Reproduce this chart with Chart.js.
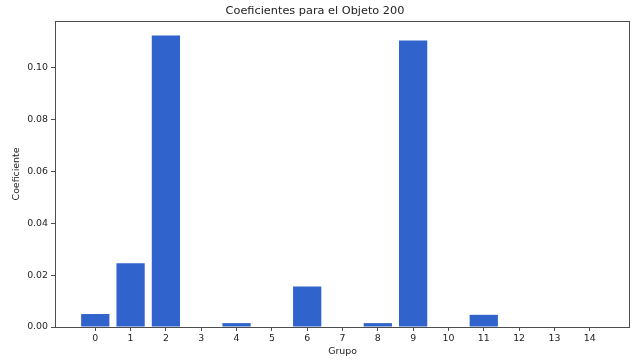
<!DOCTYPE html>
<html>
<head>
<meta charset="utf-8">
<script src="https://cdn.jsdelivr.net/npm/chart.js@4.4.1/dist/chart.umd.min.js"></script>
<style>
  body { margin: 0; background: #fff; }
  #wrap { width: 632px; height: 360px; }
</style>
</head>
<body>
<div id="wrap"><canvas id="grafico"></canvas></div>
<script>
// Datos
const grupos = [0, 1, 2, 3, 4, 5, 6, 7, 8, 9, 10, 11, 12, 13, 14];
const coeficientes = [0.0050, 0.0246, 0.1124, 0, 0.0015, 0, 0.0156, 0, 0.0015, 0.1105, 0, 0.0047, 0, 0, 0];
const ticksY = [0, 0.02, 0.04, 0.06, 0.08, 0.10];

const COLOR_TEXTO = "#222222";
const COLOR_EJE = "#4d4d4d";

// Marco completo alrededor del área (como las spines de matplotlib)
const marco = {
  id: "marco",
  afterDatasetsDraw(chart) {
    const { ctx, chartArea: a } = chart;
    ctx.save();
    ctx.strokeStyle = COLOR_EJE;
    ctx.lineWidth = 1;
    ctx.strokeRect(Math.round(a.left) + 0.5, Math.round(a.top) + 0.5,
      Math.round(a.right - a.left) - 1, Math.round(a.bottom - a.top));
    ctx.restore();
  }
};

const ctx = document.getElementById("grafico").getContext("2d");
new Chart(ctx, {
  type: "bar",
  data: {
    datasets: [{
      data: grupos.map((g, i) => ({ x: g, y: coeficientes[i] })),
      backgroundColor: "#3064cc",
      borderWidth: 0,
      categoryPercentage: 1,
      barPercentage: 0.8
    }]
  },
  options: {
    responsive: true,
    maintainAspectRatio: false,
    animation: false,
    layout: { padding: { left: 0, right: 2, top: 0, bottom: 0 } },
    plugins: {
      legend: { display: false },
      tooltip: { enabled: false },
      title: {
        display: true,
        text: "Coeficientes para el Objeto 200",
        color: COLOR_TEXTO,
        font: { family: "DejaVu Sans", size: 11.3, weight: "normal" },
        padding: { top: 4, bottom: 3.4 }
      }
    },
    scales: {
      x: {
        type: "linear",
        offset: false,
        min: -1.14,
        max: 15.14,
        afterBuildTicks: (s) => { s.ticks = grupos.map(v => ({ value: v })); },
        afterFit: (s) => { s.height = 33; },
        grid: { display: true, offset: false, drawOnChartArea: false, drawTicks: true, tickLength: 4, tickColor: COLOR_EJE },
        border: { display: false },
        ticks: { color: COLOR_TEXTO, font: { family: "DejaVu Sans", size: 9.4 }, padding: 2, maxRotation: 0, autoSkip: false },
        title: {
          display: true, text: "Grupo", color: COLOR_TEXTO,
          font: { family: "DejaVu Sans", size: 9.4 }, padding: { top: 0, bottom: 3 }
        }
      },
      y: {
        min: 0,
        max: 0.118,
        afterBuildTicks: (s) => { s.ticks = ticksY.map(v => ({ value: v })); },
        afterFit: (s) => { s.width = 55; },
        grid: { display: true, drawOnChartArea: false, drawTicks: true, tickLength: 4, tickColor: COLOR_EJE },
        border: { display: false },
        ticks: {
          color: COLOR_TEXTO, font: { family: "DejaVu Sans", size: 9.4 }, padding: 3,
          callback: (v) => v.toFixed(2)
        },
        title: {
          display: true, text: "Coeficiente", color: COLOR_TEXTO,
          font: { family: "DejaVu Sans", size: 9.4 }, padding: { top: 11.4, bottom: 0 }
        }
      }
    }
  },
  plugins: [marco]
});
</script>
</body>
</html>
